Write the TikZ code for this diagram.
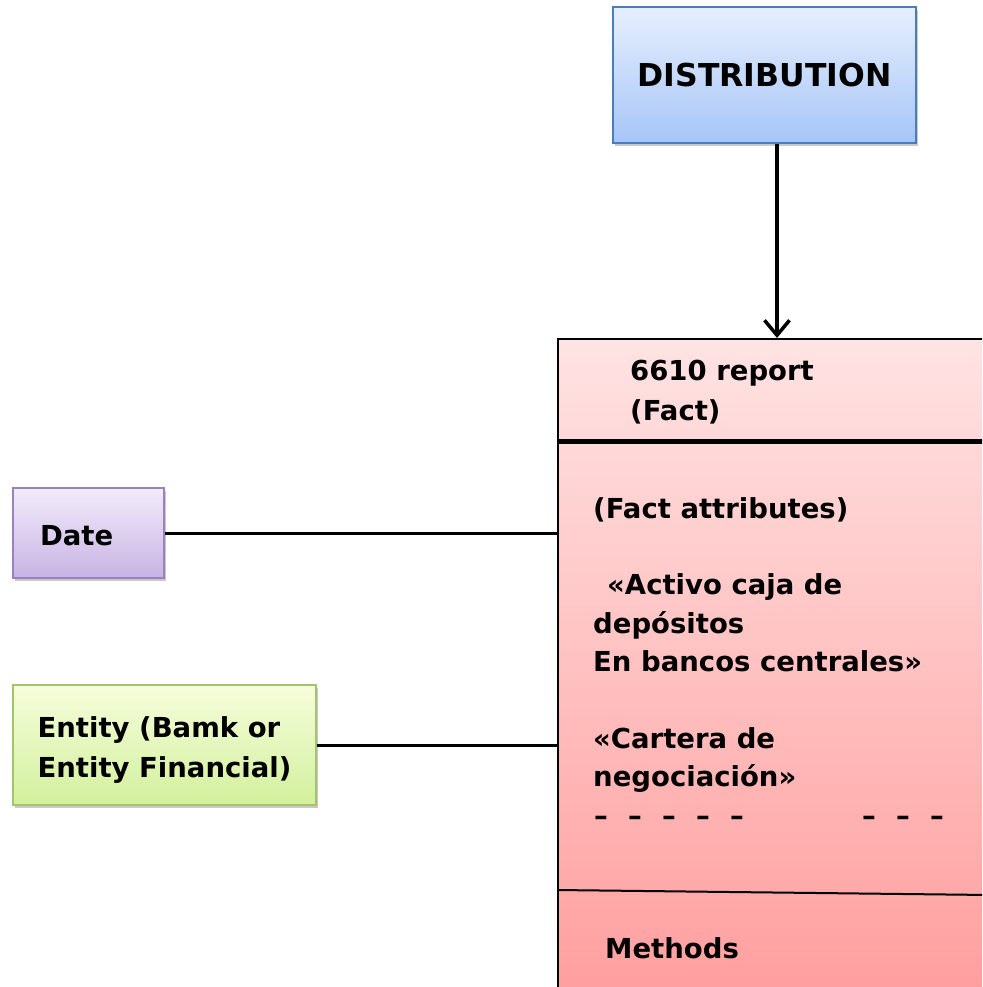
\documentclass[tikz,border=0pt]{standalone}
\usepackage{fontspec}
\setmainfont{DejaVu Sans}
\usetikzlibrary{arrows.meta,shadows}
\definecolor{distTop}{HTML}{E6EFFD}
\definecolor{distBot}{HTML}{A6C5F7}
\definecolor{distDraw}{HTML}{4A7EBB}
\definecolor{dateTop}{HTML}{F2ECFA}
\definecolor{dateBot}{HTML}{C7B3E3}
\definecolor{dateDraw}{HTML}{9A82C0}
\definecolor{entTop}{HTML}{F6FDDC}
\definecolor{entBot}{HTML}{D2F09C}
\definecolor{entDraw}{HTML}{A3C46B}
\definecolor{factTop}{HTML}{FFE3E3}
\definecolor{factBot}{HTML}{FF9E9E}
\newcommand{\dsh}[1]{\makebox[#1][l]{–}}
\begin{document}
\begin{tikzpicture}[x=1pt,y=-1pt,
  font=\fontsize{27.5}{33}\selectfont\bfseries,
  shad/.style={drop shadow={shadow xshift=2pt,shadow yshift=-3pt,opacity=0.3,fill=black!70}},
  colbox/.style={rectangle,line width=2pt,shad,inner sep=0pt},
  txt/.style={anchor=base west,inner sep=0pt},
  conn/.style={line width=3pt},
  arrowline/.style={line width=3.5pt,-{Straight Barb[length=15pt,width=25pt,line width=3.5pt]}}]
\useasboundingbox (0,0) rectangle (982,987);
\clip (0,0) rectangle (982,987);

% Fact box
\node[rectangle,draw=black,line width=2pt,top color=factTop,bottom color=factBot,
      minimum width=450pt,minimum height=660pt,anchor=north west,inner sep=0pt] (fact) at (557,338) {};
\draw[line width=5pt] (557,441) -- (990,441);
\draw[line width=2pt] (557,890) -- (990,895);

\node[txt] (t1) at (630,380) {6610 report};
\node[txt] (t2) at (630,420) {(Fact)};
\node[txt] (t3) at (593,518) {(Fact attributes)};
\node[txt] (t4) at (593,594) {\hspace*{14pt}«Activo caja de};
\node[txt] (t5) at (593,633) {depósitos};
\node[txt] (t6) at (593,671) {En bancos centrales»};
\node[txt] (t7) at (593,748) {«Cartera de};
\node[txt] (t8) at (593,786) {negociación»};
\node[txt] (t9) at (594,825) {\dsh{34pt}\dsh{34pt}\dsh{34pt}\dsh{34pt}\dsh{132pt}\dsh{34pt}\dsh{34pt}–};
\node[txt] (t10) at (605,958) {Methods};

% Distribution
\node[colbox,draw=distDraw,top color=distTop,bottom color=distBot,
      minimum width=303pt,minimum height=136pt,text height=24pt,text depth=0pt,
      font=\fontsize{31.5}{36}\selectfont\bfseries] (dist) at (764.5,75) {DISTRIBUTION};
\draw[arrowline] ([xshift=12.5pt]dist.south) -- ([xshift=12.5pt]dist.south |- fact.north);

% Date
\node[colbox,draw=dateDraw,top color=dateTop,bottom color=dateBot,
      minimum width=151pt,minimum height=90pt,text width=97pt,align=left,
      text height=24pt,text depth=0pt] (date) at (88.5,533) {Date};
\draw[conn] (date.east) -- (date.east -| fact.west);

% Entity
\node[colbox,draw=entDraw,top color=entTop,bottom color=entBot,
      minimum width=303pt,minimum height=120pt,align=left,
      text height=64pt,text depth=0pt] (entity) at (164.5,745) {Entity (Bamk or\\[7pt]Entity Financial)};
\draw[conn] (entity.east) -- (entity.east -| fact.west);
\end{tikzpicture}
\end{document}
